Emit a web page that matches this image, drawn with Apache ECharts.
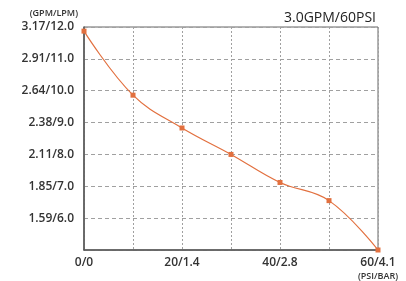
<!DOCTYPE html>
<html>
<head>
<meta charset="utf-8">
<script src="https://cdn.jsdelivr.net/npm/echarts@6/dist/echarts.min.js"></script>
<style>
html, body { margin: 0; padding: 0; background: #fff; }
#char { width: 406px; height: 281px; }
</style>
</head>
<body>
<div id="char"></div>
<script>
// 压力 (PSI) vs 流量 (LPM)
const pressurePsi = [0, 10, 20, 30, 40, 50, 60];
const flowLpm = [11.87, 9.86, 8.83, 8.0, 7.12, 6.55, 5.0];
const xTickValues = [0, 20, 40, 60];
const xTickLabels = ['0/0', '20/1.4', '40/2.8', '60/4.1'];
const yTickValues = [6, 7, 8, 9, 10, 11, 12];
const yTickLabels = ['1.59/6.0', '1.85/7.0', '2.11/8.0', '2.38/9.0', '2.64/10.0', '2.91/11.0', '3.17/12.0'];

const font = '"Open Sans", "Noto Sans", sans-serif';
const charEch = echarts.init(document.getElementById('char'));
const option = {
    animation: false,
    title: {
        text: '3.0GPM/60PSI',
        right: 25,
        top: 6,
        textStyle: { fontFamily: font, fontSize: 14, fontWeight: 'normal', color: '#222' }
    },
    grid: {
        left: 84,
        right: 28,
        top: 27,
        bottom: 29,
        show: true,
        borderColor: '#666',
        borderWidth: 1
    },
    xAxis: {
        type: 'value',
        min: 0,
        max: 60,
        interval: 10,
        axisLine: { lineStyle: { color: '#555', width: 1.5 } },
        axisTick: { show: false },
        axisLabel: {
            fontFamily: font,
            fontSize: 12,
            fontWeight: 600,
            color: '#333',
            margin: 7,
            formatter: function (v) {
                const i = xTickValues.indexOf(v);
                return i >= 0 ? xTickLabels[i] : '';
            }
        },
        splitLine: { show: true, lineStyle: { color: '#a0a0a0', type: [2, 2] } },
        name: '(PSI/BAR)',
        nameLocation: 'end',
        nameGap: 0,
        nameTextStyle: {
            fontFamily: font, fontSize: 9, fontWeight: 600, color: '#333',
            align: 'center', verticalAlign: 'top', padding: [22, 0, 0, 0]
        }
    },
    yAxis: {
        type: 'value',
        min: 5,
        max: 12,
        interval: 1,
        axisLine: { show: true, lineStyle: { color: '#555', width: 1.5 } },
        axisTick: { show: false },
        axisLabel: {
            fontFamily: font,
            fontSize: 12,
            fontWeight: 600,
            color: '#333',
            margin: 10,
            formatter: function (v) {
                const i = yTickValues.indexOf(v);
                return i >= 0 ? yTickLabels[i] : '';
            }
        },
        splitLine: { show: true, lineStyle: { color: '#a0a0a0', type: [4, 3] } },
        name: '(GPM/LPM)',
        nameLocation: 'end',
        nameGap: 9,
        nameTextStyle: {
            fontFamily: font, fontSize: 9, fontWeight: 600, color: '#333',
            align: 'right', padding: [0, 6, 0, 0]
        }
    },
    series: [
        {
            type: 'line',
            smooth: 0.4,
            data: pressurePsi.map((p, i) => [p, flowLpm[i]]),
            symbol: 'rect',
            symbolSize: 5,
            itemStyle: { color: '#E2703F' },
            lineStyle: { color: '#E2703F', width: 1.2 }
        }
    ]
};
charEch.setOption(option, true);
</script>
</body>
</html>
